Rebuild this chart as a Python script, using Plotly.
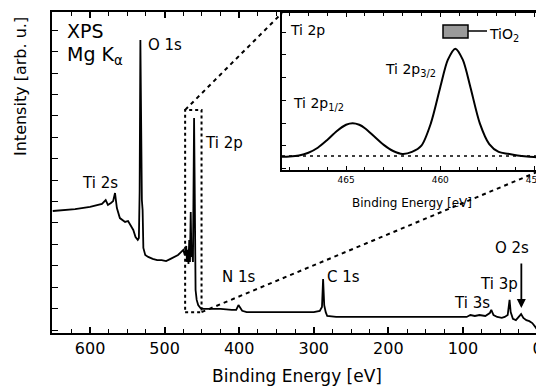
import plotly.graph_objects as go

# ---------------- data ----------------
survey_energy = [650, 635, 620, 600, 590, 584, 579, 576, 572, 569, 566.5, 564, 560, 556, 553,
                 549, 546, 542, 539, 536, 534.5, 533.5, 532.5, 531.5, 530.5, 529.5, 528.5, 526,
                 522, 516, 510, 504, 498, 492, 486, 482, 478, 475, 473, 471, 470, 469, 468,
                 467, 466, 465, 464, 463, 462, 460.5, 459.5, 458.5, 457, 455, 452, 448, 440,
                 425, 410, 404, 401, 399, 396, 390, 370, 340, 320, 300, 292, 289, 287.5, 286,
                 284, 282, 270, 240, 200, 160, 120, 95, 90, 84, 78, 70, 64, 62, 59, 54, 48, 44,
                 40, 37.5, 36, 33, 29, 25, 22, 19, 15, 11, 7, 3, 0, -4]
survey_intensity = [38.0, 38.3, 38.6, 39.3, 39.9, 40.2, 41.4, 39.9, 40.5, 41.1, 43.6, 38.9, 35.8,
                    35.2, 34.6, 34.9, 33.6, 32.1, 29.9, 29.0, 29.6, 43.9, 91.3, 43.9, 41.4, 38.3,
                    26.5, 24.3, 23.7, 23.1, 22.7, 22.7, 22.4, 23.1, 23.7, 24.3, 25.2, 25.9, 24.3,
                    27.1, 22.1, 25.9, 21.5, 29.0, 22.1, 37.7, 23.7, 25.9, 22.1, 67.0, 41.4, 13.4,
                    10.3, 8.7, 7.8, 7.5, 7.5, 7.5, 7.2, 7.2, 8.7, 7.8, 6.9, 6.5, 6.5, 6.5, 6.5,
                    6.5, 6.9, 8.1, 16.8, 8.7, 6.5, 5.3, 5.0, 5.0, 5.0, 5.0, 5.0, 5.0, 5.6, 5.3,
                    5.6, 5.3, 6.2, 7.2, 5.6, 5.0, 4.7, 5.0, 5.6, 10.3, 6.5, 4.4, 4.0, 5.3, 5.9,
                    4.7, 4.0, 3.7, 3.1, 1.9, 0.9, 0.6]

inset_energy = [468.4, 468.0, 467.5, 467.0, 466.5, 466.0, 465.5, 465.0, 464.65, 464.3, 464.0,
                463.5, 463.0, 462.5, 462.0, 461.5, 461.0, 460.5, 460.0, 459.6, 459.2, 458.8,
                458.4, 457.9, 457.4, 456.9, 456.4, 455.9, 455.4, 454.9, 454.6]
inset_intensity = [8.4, 8.6, 9.3, 11.0, 14.2, 19.1, 24.7, 28.8, 29.8, 28.8, 26.6, 21.3, 16.0,
                   12.1, 10.2, 11.5, 15.5, 29.7, 52.7, 70.1, 77.3, 70.1, 52.7, 29.7, 16.5, 11.5,
                   10.3, 9.3, 8.6, 8.1, 7.8]
inset_baseline = 8.9

main_xrange = [651, -6]
main_yrange = [0, 100]
inset_xrange = [468.4, 454.6]
inset_yrange = [0, 100]
zoom_box = dict(e_hi=472.5, e_lo=450.5, i_lo=6.5, i_hi=69.5)

# ---------------- layout helpers ----------------
# the page body adds an 8px offset, so the figure is 8px smaller than the window
OFF = 8
W, H = 544 - OFF, 388 - OFF
L, R, T, B = 52 - OFF, 2, 12 - OFF, 55
PW, PH = W - L - R, H - T - B


def px(x, y):
    """reference-window pixel -> paper fraction"""
    return (x - OFF - L) / PW, (H - B - (y - OFF)) / PH


FONT = "DejaVu Sans"
inset_xdom = [px(282, 0)[0], 1.0]
inset_ydom = [px(0, 170)[1], px(0, 13)[1]]

fig = go.Figure()
fig.add_trace(go.Scatter(x=survey_energy, y=survey_intensity, mode="lines",
                         line=dict(color="black", width=1.8), xaxis="x", yaxis="y",
                         showlegend=False, hoverinfo="skip"))
fig.add_trace(go.Scatter(x=inset_energy, y=inset_intensity, mode="lines",
                         line=dict(color="black", width=2, shape="spline", smoothing=0.8),
                         xaxis="x2", yaxis="y2", showlegend=False, hoverinfo="skip"))

axis_common = dict(showgrid=False, zeroline=False, showline=True, linecolor="black",
                   mirror="ticks", ticks="inside", tickcolor="black", automargin=False,
                   ticklabeloverflow="allow")

fig.update_layout(
    template="none",
    width=W, height=H, margin=dict(l=L, r=R, t=T, b=B, pad=0),
    paper_bgcolor="white", plot_bgcolor="white",
    font=dict(family=FONT, color="black"),
    xaxis=dict(axis_common, domain=[0, 1], range=main_xrange, dtick=100, tick0=0,
               ticklen=6, tickwidth=1.5, linewidth=2,
               minor=dict(dtick=25, ticks="inside", ticklen=4, tickwidth=1.2, tickcolor="black"),
               tickfont=dict(size=16, family=FONT),
               title=dict(text="Binding Energy [eV]", font=dict(size=17, family=FONT), standoff=13)),
    yaxis=dict(axis_common, domain=[0, 1], range=main_yrange, dtick=6.67, tick0=0.93,
               ticklen=6, tickwidth=1.2, linewidth=2, showticklabels=False),
    xaxis2=dict(axis_common, domain=inset_xdom, anchor="y2", range=inset_xrange, dtick=5,
                tick0=455, ticklen=4, tickwidth=1, linewidth=1.8,
                minor=dict(dtick=1, ticks="inside", ticklen=3, tickwidth=1, tickcolor="black"),
                tickfont=dict(size=9, family=FONT),
                title=dict(text="Binding Energy [eV]", font=dict(size=12, family=FONT), standoff=15)),
    yaxis2=dict(axis_common, domain=inset_ydom, anchor="x2", range=inset_yrange, dtick=14.5,
                tick0=0.8, ticklen=4, tickwidth=1, linewidth=1.8, showticklabels=False),
)

shapes = []
# dotted zoom box in main plot
shapes.append(dict(type="rect", xref="x", yref="y", x0=zoom_box["e_hi"], x1=zoom_box["e_lo"],
                   y0=zoom_box["i_lo"], y1=zoom_box["i_hi"],
                   line=dict(color="black", width=2, dash="3px,3px")))


def main_data_from_paper(fx, fy):
    xd = main_xrange[0] + fx * (main_xrange[1] - main_xrange[0])
    yd = main_yrange[0] + fy * (main_yrange[1] - main_yrange[0])
    return xd, yd


tlx, tly = main_data_from_paper(inset_xdom[0], inset_ydom[1])
brx, bry = main_data_from_paper(inset_xdom[1], inset_ydom[0])
shapes.append(dict(type="line", xref="x", yref="y", x0=zoom_box["e_hi"], y0=zoom_box["i_hi"],
                   x1=tlx, y1=tly, line=dict(color="black", width=2, dash="4px,4px")))
shapes.append(dict(type="line", xref="x", yref="y", x0=zoom_box["e_lo"], y0=zoom_box["i_lo"],
                   x1=brx, y1=bry, line=dict(color="black", width=2, dash="4px,4px")))
# inset dotted baseline
shapes.append(dict(type="line", xref="x2 domain", yref="y2", x0=0, x1=1, y0=inset_baseline,
                   y1=inset_baseline, line=dict(color="black", width=1.5, dash="3px,4px")))
# inset legend symbol
(a, b), (c, d) = px(443, 25), px(468, 38)
shapes.append(dict(type="rect", xref="paper", yref="paper", x0=a, y0=d, x1=c, y1=b,
                   fillcolor="#9a9a9a", line=dict(color="black", width=1.5)))
(a, b), (c, d) = px(468, 31), px(487, 31)
shapes.append(dict(type="line", xref="paper", yref="paper", x0=a, y0=b, x1=c, y1=d,
                   line=dict(color="black", width=1.5)))
fig.update_layout(shapes=shapes)


def label(text, x, y, size=15, anchor="left"):
    fx, fy = px(x, y)
    fig.add_annotation(text=text, x=fx, y=fy, xref="paper", yref="paper", showarrow=False,
                       xanchor=anchor, yanchor="middle", font=dict(size=size, family=FONT,
                                                                   color="black"))


label("XPS", 65, 31, 19)
label("Mg K<sub>α</sub>", 65, 55, 19)
label("O 1s", 146, 45)
label("Ti 2p", 203, 143)
label("Ti 2s", 80, 183)
label("N 1s", 220, 277)
label("C 1s", 325, 277)
label("Ti 3s", 452, 303)
label("Ti 3p", 478, 284)
label("O 2s", 493, 248)
label("Ti 2p", 288, 30, 14)
label("Ti 2p<sub>3/2</sub>", 383, 70, 14)
label("Ti 2p<sub>1/2</sub>", 291, 104, 14)
label("TiO<sub>2</sub>", 487, 35, 14)

# y-axis title
fx, fy = px(20, 87)
fig.add_annotation(text="Intensity [arb. u.]", x=fx, y=fy, xref="paper", yref="paper",
                   showarrow=False, textangle=-90, xanchor="center", yanchor="middle",
                   font=dict(size=16, family=FONT, color="black"))

# arrow for O 2s
fig.add_annotation(text="", x=21.7, y=7.8, xref="x", yref="y", showarrow=True, ax=0, ay=-46,
                   arrowhead=2, arrowsize=1, arrowwidth=1.8, arrowcolor="black")

fig.write_html("out.html")
